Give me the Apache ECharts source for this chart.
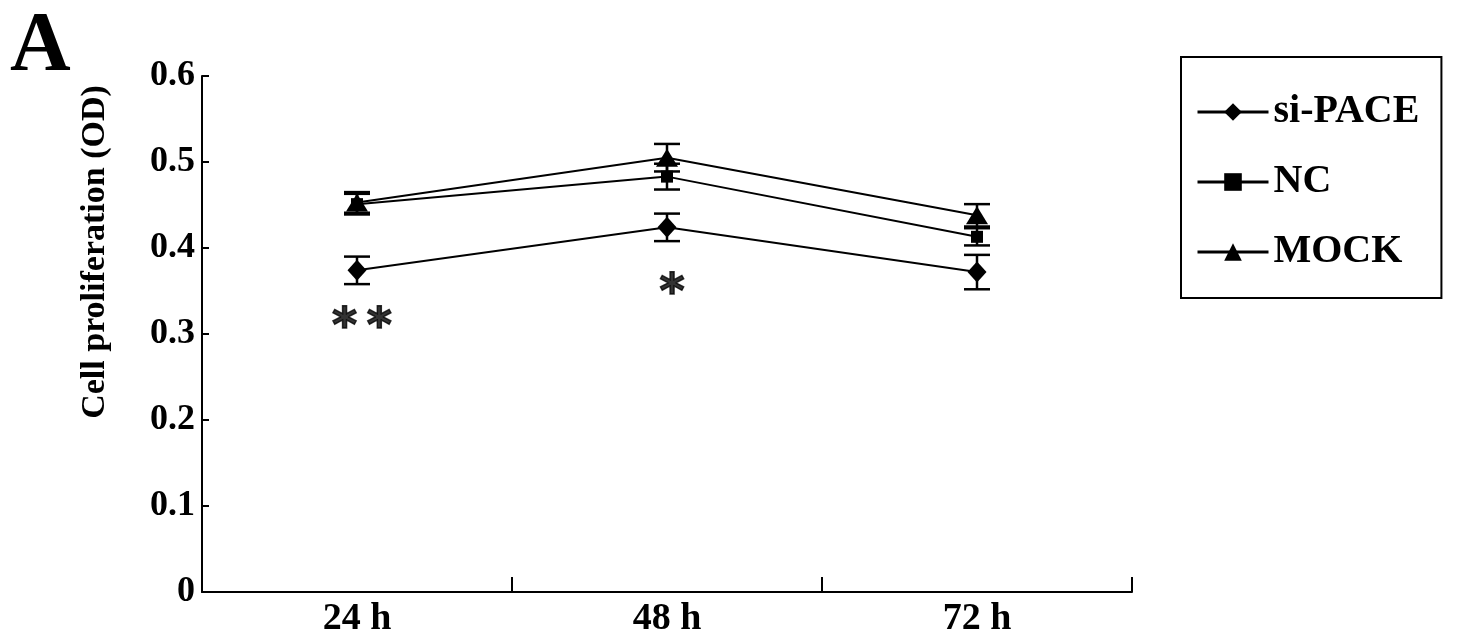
<!DOCTYPE html>
<html>
<head>
<meta charset="utf-8">
<script src="https://cdn.jsdelivr.net/npm/echarts@6/dist/echarts.min.js"></script>
<style>
html,body{margin:0;padding:0;background:#fff;}
#chart{width:1457px;height:644px;}
</style>
</head>
<body>
<div id="chart"></div>
<script>
var categories = ['24 h', '48 h', '72 h'];
var seriesNames = ['si-PACE', 'NC', 'MOCK'];
var siPACE = [0.374, 0.424, 0.372];
var siPACEErr = [0.016, 0.016, 0.020];
var NC = [0.451, 0.483, 0.413];
var NCErr = [0.012, 0.015, 0.010];
var MOCK = [0.453, 0.505, 0.438];
var MOCKErr = [0.012, 0.016, 0.013];
var sigMarks = ['**', '*', ''];
var sigLevel = [0.319, 0.359, 0];

var SERIF = "'Liberation Serif', 'Times New Roman', serif";

function errData(vals, errs) {
  return vals.map(function (v, i) { return [i, v - errs[i], v + errs[i]]; });
}

function errSeries(vals, errs) {
  return {
    type: 'custom',
    data: errData(vals, errs),
    encode: { x: 0, y: [1, 2] },
    silent: true,
    z: 3,
    renderItem: function (params, api) {
      var x = api.value(0);
      var lo = api.coord([x, api.value(1)]);
      var hi = api.coord([x, api.value(2)]);
      var hw = 13;
      var st = { stroke: '#000', lineWidth: 2.5 };
      return {
        type: 'group',
        children: [
          { type: 'line', shape: { x1: lo[0], y1: lo[1], x2: hi[0], y2: hi[1] }, style: st },
          { type: 'line', shape: { x1: lo[0] - hw, y1: lo[1], x2: lo[0] + hw, y2: lo[1] }, style: st },
          { type: 'line', shape: { x1: hi[0] - hw, y1: hi[1], x2: hi[0] + hw, y2: hi[1] }, style: st }
        ]
      };
    }
  };
}

function lineSeries(name, vals, symbol, size) {
  return {
    name: name,
    type: 'line',
    data: vals,
    symbol: symbol,
    symbolSize: size,
    showAllSymbol: true,
    z: 4,
    lineStyle: { color: '#000', width: 2 },
    itemStyle: { color: '#000', borderWidth: 0 },
    emphasis: { disabled: true }
  };
}

var chart = echarts.init(document.getElementById('chart'), null, { renderer: 'canvas' });

var option = {
  animation: false,
  backgroundColor: '#fff',
  grid: { left: 202, right: 325, top: 76, bottom: 52, containLabel: false },
  xAxis: {
    type: 'category',
    data: categories,
    boundaryGap: true,
    axisLine: { lineStyle: { color: '#000', width: 2 } },
    axisTick: { show: true, interval: 0, inside: true, length: 15, lineStyle: { color: '#000', width: 2 } },
    axisLabel: { color: '#000', fontFamily: SERIF, fontWeight: 'bold', fontSize: 38, margin: 8 },
    splitLine: { show: false }
  },
  yAxis: {
    type: 'value',
    min: 0, max: 0.6, interval: 0.1,
    axisLine: { show: true, lineStyle: { color: '#000', width: 2 } },
    axisTick: { show: true, inside: true, length: 7, lineStyle: { color: '#000', width: 2 } },
    axisLabel: { color: '#000', fontFamily: SERIF, fontWeight: 'bold', fontSize: 36, margin: 7 },
    splitLine: { show: false }
  },
  legend: {
    data: seriesNames,
    orient: 'vertical',
    left: 1181, top: 57,
    padding: [35, 22, 26, 15],
    itemGap: 30,
    itemWidth: 71, itemHeight: 22,
    borderColor: '#000', borderWidth: 2,
    lineStyle: { width: 3 },
    textStyle: { color: '#000', fontFamily: SERIF, fontWeight: 'bold', fontSize: 40 },
    selectedMode: false
  },
  graphic: [
    { type: 'text', left: 10, top: 6,
      style: { text: 'A', font: 'bold 84px ' + SERIF, fill: '#000' } },
    { type: 'text', x: 95, y: 252, rotation: Math.PI / 2,
      style: { text: 'Cell proliferation (OD)', font: 'bold 34px ' + SERIF, fill: '#000',
               textAlign: 'center', textVerticalAlign: 'middle' } }
  ],
  series: [
    errSeries(siPACE, siPACEErr),
    errSeries(NC, NCErr),
    errSeries(MOCK, MOCKErr),
    lineSeries('si-PACE', siPACE, 'diamond', [19, 21]),
    lineSeries('NC', NC, 'rect', 12),
    lineSeries('MOCK', MOCK, 'triangle', [22, 18]),
    {
      type: 'scatter',
      data: sigLevel.map(function (v, i) { return [i, v]; }),
      symbolSize: 0,
      silent: true,
      label: {
        show: true, position: 'inside',
        formatter: function (p) { return sigMarks[p.dataIndex].split('').join('\u2009'); },
        color: '#000', fontFamily: "'DejaVu Sans', sans-serif", fontWeight: 'bold', fontSize: 48,
        textBorderColor: '#000', textBorderWidth: 1.5, offset: [5, 11]
      }
    }
  ]
};
chart.setOption(option);
</script>
</body>
</html>
